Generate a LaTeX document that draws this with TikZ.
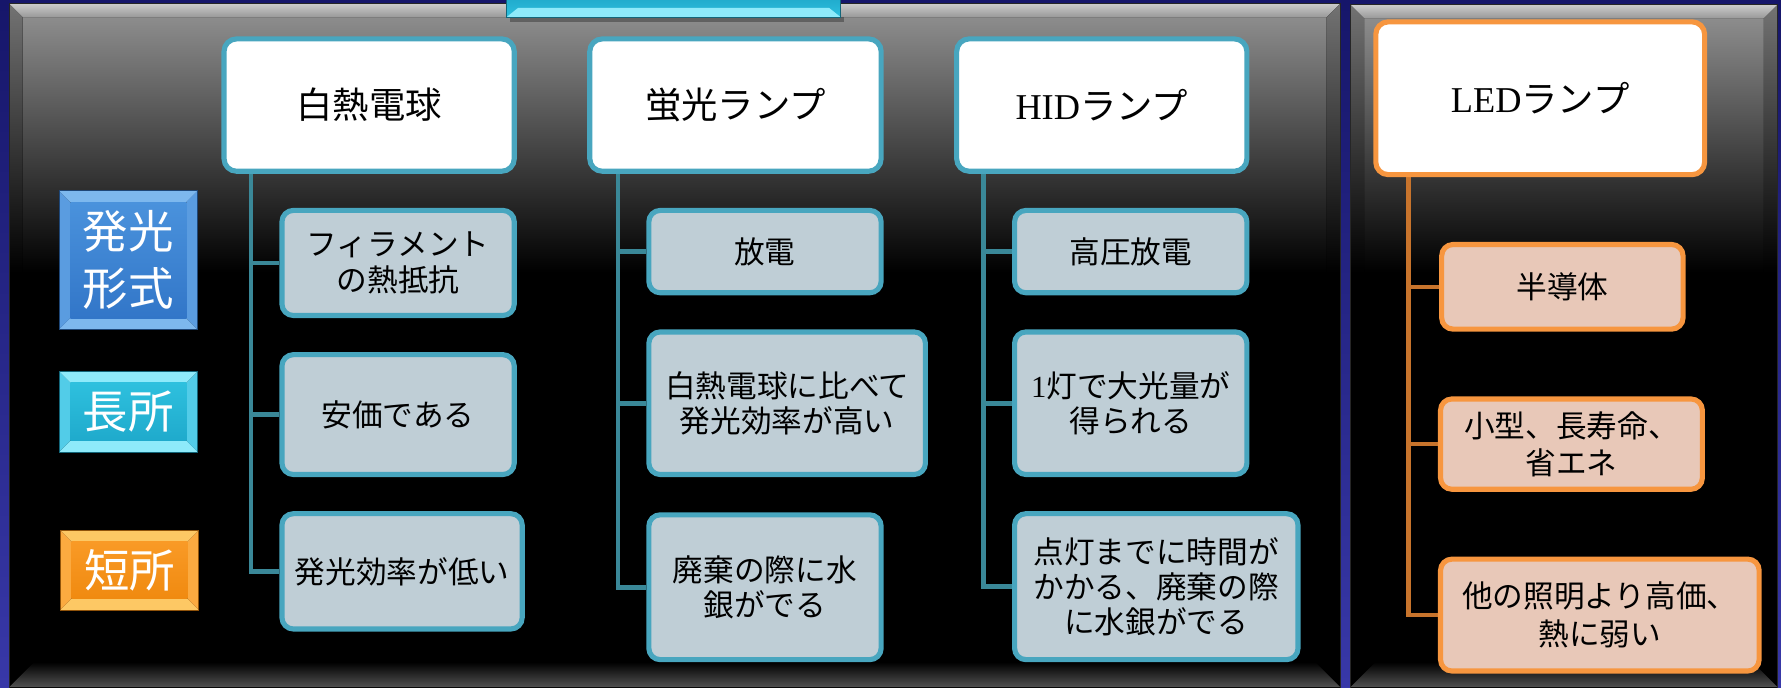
\documentclass[tikz,border=0pt]{standalone}
\usepackage{fontspec}
\setmainfont{Noto Sans CJK JP}
\newfontfamily\tms{Liberation Serif}
\usetikzlibrary{calc}
\definecolor{navyA}{HTML}{16166A}
\definecolor{navyB}{HTML}{3838A8}
\definecolor{tealB}{HTML}{48A6BF}
\definecolor{tealC}{HTML}{3A8898}
\definecolor{tealF}{HTML}{BFCED6}
\definecolor{oraB}{HTML}{F7963F}
\definecolor{oraC}{HTML}{C8742C}
\definecolor{oraF}{HTML}{E8C8B8}
\definecolor{bluA}{HTML}{4A92DC}
\definecolor{bluB}{HTML}{3276C8}
\definecolor{bluL}{HTML}{7DB8EE}
\definecolor{bluS}{HTML}{5A9CE0}
\definecolor{cyaA}{HTML}{2EC0DE}
\definecolor{cyaB}{HTML}{1FAACC}
\definecolor{cyaL}{HTML}{8EEAFA}
\definecolor{cyaS}{HTML}{52CCE8}
\definecolor{orgA}{HTML}{F99A26}
\definecolor{orgB}{HTML}{F08A10}
\definecolor{orgL}{HTML}{FDC864}
\definecolor{orgS}{HTML}{FBAA40}
\pgfdeclarelayer{bg}
\pgfdeclarelayer{conn}
\pgfsetlayers{bg,conn,main}
\newcommand\bx[7]{\node[#2,minimum width={(#5-#3-4.5)*1pt},minimum height={(#6-#4-4.5)*1pt}] (#1) at ({(#3+#5)/2},{(#4+#6)/2}) {#7};}
\newcommand\lbl[7]{%
  \fill[#6L] (#2,#3) -- (#4,#3) -- ({#4-10},{#3+10}) -- ({#2+10},{#3+10}) -- cycle;
  \fill[#6L] (#2,#5) -- (#4,#5) -- ({#4-10},{#5-10}) -- ({#2+10},{#5-10}) -- cycle;
  \fill[#6S] (#2,#3) -- ({#2+10},{#3+10}) -- ({#2+10},{#5-10}) -- (#2,#5) -- cycle;
  \fill[#6S] (#4,#3) -- ({#4-10},{#3+10}) -- ({#4-10},{#5-10}) -- (#4,#5) -- cycle;
  \node[lblin, top color=#6A, bottom color=#6B, minimum width={(#4-#2-20)*1pt}, minimum height={(#5-#3-20)*1pt}] (#1) at ({(#2+#4)/2},{(#3+#5)/2}) {#7};
  \draw[#6B!60!black, line width=0.8pt] (#2,#3) rectangle (#4,#5);
}
\begin{document}
\begin{tikzpicture}[x=1pt,y=-1pt,
  topbox/.style={draw=tealB, line width=4.5pt, fill=white, rounded corners=11pt, align=center, inner sep=2pt, font=\fontsize{32}{38}\selectfont},
  ledtop/.style={topbox, draw=oraB},
  cbox/.style={draw=tealB, line width=4.5pt, fill=tealF, rounded corners=10pt, align=center, inner sep=2pt, font=\fontsize{27}{31}\selectfont},
  lbox/.style={cbox, draw=oraB, fill=oraF, font=\fontsize{27}{33}\selectfont},
  tconn/.style={draw=tealC, line width=4pt},
  oconn/.style={draw=oraC, line width=4pt},
  lblin/.style={inner sep=0pt, text=white, align=center, font=\fontsize{40}{50}\selectfont}
]
\useasboundingbox (0,0) rectangle (1568,605);
\begin{pgfonlayer}{bg}
\fill[top color=navyA, bottom color=navyB] (0,0) rectangle (1568,605);
% left panel
\fill[black] (8,3) rectangle (1180,610);
\fill[top color=black!42, bottom color=black] (8,3) rectangle (1180,240);
\fill[top color=black!55, bottom color=black] (8,3) -- (20,15) -- (20,240) -- (8,240) -- cycle;
\fill[top color=black!55, bottom color=black] (1180,3) -- (1168,15) -- (1168,240) -- (1180,240) -- cycle;
\fill[top color=black!20, bottom color=black!40] (8,3) -- (1180,3) -- (1168,15) -- (20,15) -- cycle;
\fill[top color=black, bottom color=black!68] (8,605) -- (30,583) -- (1158,583) -- (1180,605) -- cycle;
\draw[black!85, line width=1pt] (8,3) rectangle (1180,610);
% right panel
\fill[black] (1189,4) rectangle (1565,610);
\fill[top color=black!42, bottom color=black] (1189,4) rectangle (1565,240);
\fill[top color=black!55, bottom color=black] (1189,4) -- (1201,16) -- (1201,240) -- (1189,240) -- cycle;
\fill[top color=black!55, bottom color=black] (1565,4) -- (1553,16) -- (1553,240) -- (1565,240) -- cycle;
\fill[top color=black!20, bottom color=black!40] (1189,4) -- (1565,4) -- (1553,16) -- (1201,16) -- cycle;
\fill[top color=black, bottom color=black!68] (1189,605) -- (1211,583) -- (1543,583) -- (1565,605) -- cycle;
\draw[black!85, line width=1pt] (1189,4) rectangle (1565,610);
% title box (cut off)
\fill[black, opacity=0.3] (449,15) rectangle (743,19);
\fill[top color=cyaB, bottom color=cyaA] (446,-2) rectangle (740,15);
\fill[cyaL] (446,15) -- (740,15) -- (730,7) -- (456,7) -- cycle;
\draw[cyaB!60!black, line width=0.8pt] (446,-2) rectangle (740,15);
\end{pgfonlayer}

% labels
\lbl{lk}{52}{168}{174}{290}{blu}{発光\\形式}
\lbl{lc}{52}{327}{174}{398}{cya}{長所}
\lbl{ls}{53}{467}{175}{537}{org}{短所}

% top boxes
\bx{p1}{topbox}{195}{32}{455}{153}{白熱電球}
\bx{p2}{topbox}{517}{32}{778}{153}{蛍光ランプ}
\bx{p3}{topbox}{840}{32}{1100}{153}{{\tms HID}ランプ}
\bx{p4}{ledtop}{1209}{17}{1503}{156}{{\tms LED}ランプ}

% children
\bx{a1}{cbox}{246}{183}{455}{280}{フィラメント\\の熱抵抗}
\bx{a2}{cbox}{246}{310}{455}{420}{安価である}
\bx{a3}{cbox}{246}{450}{462}{556}{発光効率が低い}
\bx{b1}{cbox}{569}{183}{778}{260}{放電}
\bx{b2}{cbox}{569}{290}{817}{420}{白熱電球に比べて\\発光効率が高い}
\bx{b3}{cbox}{569}{451}{778}{583}{廃棄の際に水\\銀がでる}
\bx{c1}{cbox}{891}{183}{1100}{260}{高圧放電}
\bx{c2}{cbox}{891}{290}{1100}{420}{{\tms 1}灯で大光量が\\得られる}
\bx{c3}{cbox}{891}{450}{1145}{583}{点灯までに時間が\\かかる、廃棄の際\\に水銀がでる}
\bx{d1}{lbox}{1267}{213}{1484}{292}{半導体}
\bx{d2}{lbox}{1266}{349}{1501}{433}{小型、長寿命、\\省エネ}
\bx{d3}{lbox}{1266}{490}{1551}{593}{他の照明より高価、\\熱に弱い}

\begin{pgfonlayer}{conn}
\foreach \c in {a1,a2,a3} \draw[tconn] ([xshift=26pt]p1.south west) |- (\c.west);
\foreach \c in {b1,b2,b3} \draw[tconn] ([xshift=27pt]p2.south west) |- (\c.west);
\foreach \c in {c1,c2,c3} \draw[tconn] ([xshift=26pt]p3.south west) |- (\c.west);
\foreach \c in {d1,d2,d3} \draw[oconn] ([xshift=31pt]p4.south west) |- (\c.west);
\end{pgfonlayer}
\end{tikzpicture}
\end{document}
